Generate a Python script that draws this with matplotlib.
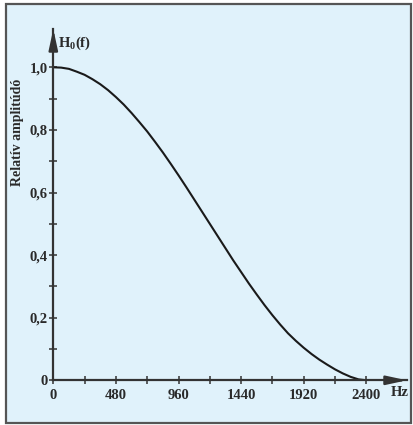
import matplotlib.pyplot as plt
import matplotlib.patches as patches
import numpy as np

# values, every 60 Hz
freq = [0, 60, 120, 180, 240, 300, 360, 420, 480, 540, 600, 660, 720, 780, 840,
        900, 960, 1020, 1080, 1140, 1200, 1260, 1320, 1380, 1440, 1500, 1560,
        1620, 1680, 1740, 1800, 1860, 1920, 1980, 2040, 2100, 2160, 2220, 2280,
        2340, 2400]
ampl = [1.000, 0.999, 0.995, 0.986, 0.976, 0.962, 0.946, 0.927, 0.905, 0.881,
        0.854, 0.825, 0.795, 0.762, 0.728, 0.692, 0.655, 0.617, 0.578, 0.539,
        0.500, 0.461, 0.422, 0.383, 0.346, 0.309, 0.274, 0.240, 0.208, 0.178,
        0.150, 0.126, 0.104, 0.084, 0.066, 0.050, 0.035, 0.022, 0.011, 0.003,
        0.000]

xticks_major = [0, 480, 960, 1440, 1920, 2400]
xticks_minor = [240, 720, 1200, 1680, 2160]
xlabels = ['0', '480', '960', '1440', '1920', '2400']
yticks_major = [0, 0.2, 0.4, 0.6, 0.8, 1.0]
yticks_minor = [0.1, 0.3, 0.5, 0.7, 0.9]
ylabels = ['0', '0,2', '0,4', '0,6', '0,8', '1,0']

plt.rcParams['font.family'] = 'Liberation Serif'
plt.rcParams['font.weight'] = 'bold'
plt.rcParams['mathtext.fontset'] = 'custom'
plt.rcParams['mathtext.rm'] = 'Liberation Serif:bold'
plt.rcParams['mathtext.bf'] = 'Liberation Serif:bold'

W, H = 413, 425
fig = plt.figure(figsize=(W / 100, H / 100), dpi=100)

# light blue panel with grey frame
fig.patches.append(patches.Rectangle((6 / W, (H - 423.3) / H), 404.7 / W, 419.3 / H,
                                     transform=fig.transFigure, facecolor='#e0f2fb',
                                     edgecolor='#555555', lw=1.6, zorder=-5))

# axes geometry (pixels): origin (53.3, 380.3), 2400 Hz / 1.0 -> 313 px
x0, y0, scale = 53.3, 380.3, 313.0
x_tip, y_tip = 407.0, 29.0
xmax = (x_tip - x0) / scale * 2400
ymax = (y0 - y_tip) / scale
ax = fig.add_axes([x0 / W, (H - y0) / H, (x_tip - x0) / W, (y0 - y_tip) / H])
ax.set_facecolor('none')
ax.set_xlim(0, xmax)
ax.set_ylim(0, ymax)

axcol = '#333333'
txtcol = '#2a2a2a'
for s in ['top', 'right']:
    ax.spines[s].set_visible(False)
for s in ['left', 'bottom']:
    ax.spines[s].set_color(axcol)
    ax.spines[s].set_linewidth(1.6)

ax.plot(freq, ampl, color='#1a1a1a', lw=1.5, solid_capstyle='round')

ax.set_xticks(xticks_major)
ax.set_xticks(xticks_minor, minor=True)
ax.set_xticklabels(xlabels)
ax.set_yticks(yticks_major)
ax.set_yticks(yticks_minor, minor=True)
ax.set_yticklabels(ylabels)
ax.tick_params(axis='both', which='both', direction='inout', length=6, width=1.1,
               color=axcol, labelsize=10.5, labelcolor=txtcol)
ax.tick_params(axis='x', pad=3)
ax.tick_params(axis='y', pad=1)

# arrow heads
hl = 17 / scale * 2400
ax.annotate('', xy=(xmax, 0), xytext=(xmax - hl, 0),
            arrowprops=dict(arrowstyle='-|>,head_length=1.25,head_width=0.27',
                            color=axcol, lw=1.6, shrinkA=0, shrinkB=0, mutation_scale=10),
            annotation_clip=False)
ax.annotate('', xy=(0, ymax), xytext=(0, ymax - 17 / scale),
            arrowprops=dict(arrowstyle='-|>,head_length=1.25,head_width=0.27',
                            color=axcol, lw=1.6, shrinkA=0, shrinkB=0, mutation_scale=10),
            annotation_clip=False)

fig.text(400 / W, 1 - 393 / H, 'Hz', ha='center', va='center', fontsize=10.5,
         color=txtcol)
fig.text(58 / W, 1 - 43 / H, r'H$_\mathbf{0}$(f)', ha='left', va='center',
         fontsize=10.5, color=txtcol)
fig.text(18 / W, 1 - 132 / H, 'Relatív amplitúdó', ha='center', va='center',
         rotation=90, fontsize=10, color=txtcol)

fig.savefig('out.png', dpi=100)
